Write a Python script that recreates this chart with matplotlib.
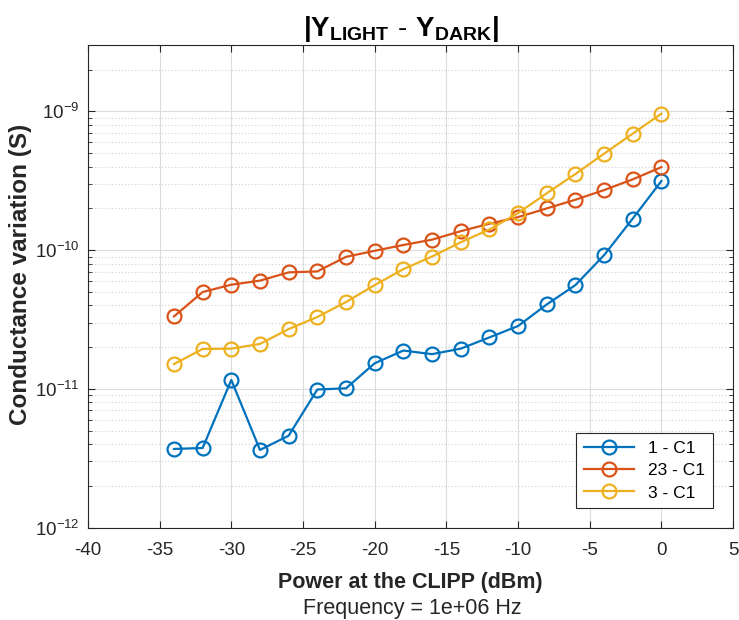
import matplotlib
matplotlib.use("Agg")
import matplotlib.pyplot as plt
from matplotlib.ticker import LogLocator, NullFormatter, MultipleLocator
import numpy as np

plt.rcParams['font.family'] = ['Liberation Sans', 'DejaVu Sans']
plt.rcParams['mathtext.fontset'] = 'custom'
plt.rcParams['mathtext.rm'] = 'Liberation Sans'
plt.rcParams['mathtext.bf'] = 'Liberation Sans:bold'
plt.rcParams['axes.unicode_minus'] = False

# Power sweep (dBm)
power = [-34, -32, -30, -28, -26, -24, -22, -20, -18, -16, -14, -12, -10, -8, -6, -4, -2, 0]

# |Y_light - Y_dark| per sample (S)
g_1_c1 = [3.69e-12, 3.75e-12, 1.16e-11, 3.63e-12, 4.6e-12, 9.9e-12, 1.01e-11, 1.53e-11, 1.89e-11,
          1.78e-11, 1.95e-11, 2.35e-11, 2.84e-11, 4.06e-11, 5.6e-11, 9.2e-11, 1.69e-10, 3.15e-10]
g_23_c1 = [3.33e-11, 4.99e-11, 5.64e-11, 6.03e-11, 6.92e-11, 7.03e-11, 8.95e-11, 9.9e-11, 1.09e-10,
           1.19e-10, 1.37e-10, 1.55e-10, 1.73e-10, 2.0e-10, 2.31e-10, 2.71e-10, 3.24e-10, 3.97e-10]
g_3_c1 = [1.51e-11, 1.94e-11, 1.95e-11, 2.11e-11, 2.7e-11, 3.3e-11, 4.23e-11, 5.6e-11, 7.3e-11,
          9.0e-11, 1.14e-10, 1.41e-10, 1.85e-10, 2.57e-10, 3.54e-10, 4.96e-10, 6.92e-10, 9.64e-10]

labels = ['1 - C1', '23 - C1', '3 - C1']
colors = ['#0072BD', '#D95319', '#EDB120']

fig = plt.figure(figsize=(7.39, 6.20), dpi=100)
ax = fig.add_axes([0.119, 0.149, 0.873, 0.778])

for series, lab, col in zip([g_1_c1, g_23_c1, g_3_c1], labels, colors):
    ax.semilogy(power, series, '-o', color=col, lw=1.6, ms=10, mfc='none', mew=1.6, label=lab)

ax.set_xlim(-40, 5)
ax.set_ylim(1e-12, 3e-9)
ax.xaxis.set_major_locator(MultipleLocator(5))
ax.yaxis.set_major_locator(LogLocator(base=10, numticks=10))
ax.yaxis.set_minor_locator(LogLocator(base=10, subs=np.arange(2, 10), numticks=20))
ax.yaxis.set_minor_formatter(NullFormatter())

ax.grid(True, which='major', color='#dcdcdc', lw=0.8)
ax.grid(True, which='minor', axis='y', color='#d0d0d0', lw=0.8, ls=(0, (1, 2)))
ax.set_axisbelow(True)

ax.tick_params(which='both', direction='in', top=True, right=True, colors='#262626', labelsize=13.5)
ax.tick_params(which='major', length=5)
ax.tick_params(which='minor', length=3)
ax.tick_params(axis='x', pad=10.5)
ax.tick_params(axis='y', pad=6)
for sp in ax.spines.values():
    sp.set_color('#262626')
    sp.set_linewidth(0.8)

ax.set_title(r'$\mathbf{|Y_{LIGHT}\ \text{-}\ Y_{DARK}|}$', fontsize=20, pad=7, color='#000000', x=0.486)
ax.set_xlabel('Power at the CLIPP (dBm)', fontsize=15.5, fontweight='bold', color='#262626', labelpad=9)
ax.set_ylabel('Conductance variation (S)', fontsize=17.5, fontweight='bold', color='#262626', labelpad=0)
ax.yaxis.set_label_coords(-0.087, 0.524)
fig.text(0.558, 0.018, 'Frequency = 1e+06 Hz', ha='center', va='center', fontsize=15.5, color='#262626')

leg = ax.legend(loc='lower right', bbox_to_anchor=(0.969, 0.040), borderaxespad=0, fontsize=12.5,
                fancybox=False, edgecolor='#262626', framealpha=1, handlelength=2.9, borderpad=0.45,
                labelspacing=0.4)
leg.get_frame().set_linewidth(0.8)

fig.savefig('out.png', dpi=100)
